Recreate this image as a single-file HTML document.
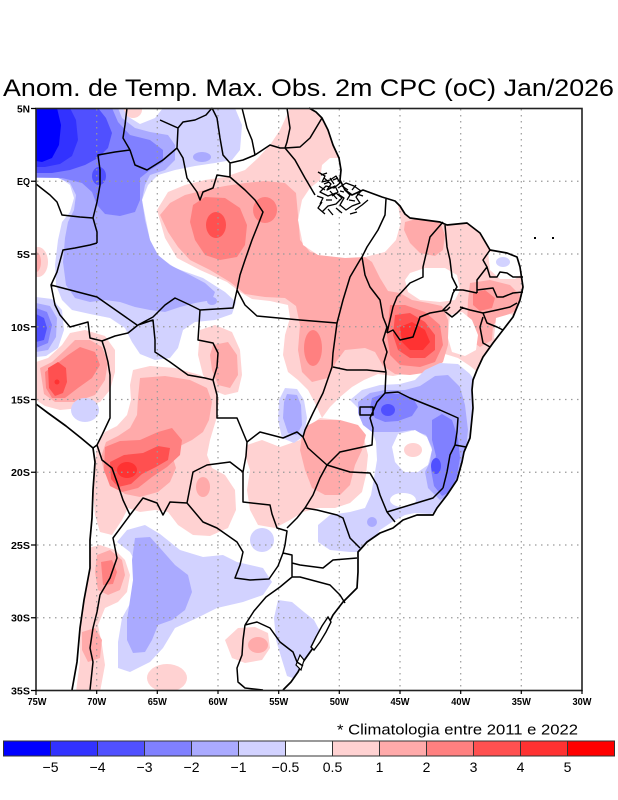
<!DOCTYPE html>
<html>
<head>
<meta charset="utf-8">
<style>
html,body{margin:0;padding:0;background:#fff;}
svg{display:block;}
text{font-family:"Liberation Sans",sans-serif;fill:#000;}
</style>
</head>
<body>
<svg width="618" height="800" viewBox="0 0 618 800" xmlns="http://www.w3.org/2000/svg">
<defs>
<clipPath id="land">
<path d="M36,108 L309,108 L316,112 L322,118 L328,130 L333,145 L339,158 L341,170 L340,180 L345,190 L352,195 L363,190 L382,197 L395,201 L400,206 L405,214 L410,218 L425,220 L440,222 L447,225 L467,223 L480,233 L490,250 L507,253 L517,257 L520,267 L523,287 L520,300 L513,317 L503,330 L493,343 L483,357 L477,370 L473,380 L472,390 L473,408 L470,438 L464,452 L462,462 L457,480 L447,495 L437,508 L433,515 L417,515 L403,520 L393,528 L380,533 L367,542 L358,552 L358,572 L357,588 L343,602 L333,615 L323,635 L313,648 L303,662 L298,672 L291,682 L283,691 L72,691 L77,662 L80,628 L84,600 L90,568 L90,540 L92,518 L93,490 L95,462 L93,448 L81,438 L66,426 L48,413 L36,404 Z"/>
</clipPath>
</defs>

<rect x="0" y="0" width="618" height="800" fill="#fff"/>

<text x="3" y="96" font-size="24.5" textLength="611" lengthAdjust="spacingAndGlyphs">Anom. de Temp. Max. Obs. 2m CPC (oC) Jan/2026</text>

<g clip-path="url(#land)" stroke="none">
 <g fill="#FFD2D2">
  <polygon points="157,210 168,192 185,185 205,180 225,177 245,170 258,158 270,145 280,130 287,115 290,108 360,108 365,150 375,185 420,205 480,215 540,240 540,375 485,378 470,366 458,358 445,354 430,353 420,362 408,373 393,376 378,374 364,380 352,387 340,397 330,407 322,418 315,403 308,390 298,380 288,372 283,355 285,335 290,318 288,305 270,301 252,299 240,292 227,282 200,270 177,258 165,238"/>
  <polygon points="133,370 150,366 175,368 200,375 215,385 219,400 216,420 210,440 207,455 212,468 225,475 235,490 236,510 228,528 210,536 193,535 178,525 168,512 155,510 140,512 128,508 122,520 112,535 100,532 95,515 93,490 95,465 97,445 105,432 117,426 127,415 131,400 130,385"/>
  <polygon points="247,445 262,440 280,447 300,440 310,425 320,418 340,420 355,426 364,438 368,455 366,475 362,492 350,503 335,508 318,508 303,512 290,520 275,528 258,525 250,510 247,490 250,470 245,455"/>
  <polygon points="88,548 100,545 115,550 125,560 130,575 127,592 118,602 105,608 98,625 102,645 105,665 100,692 76,692 80,660 80,630 84,600 88,570"/>
  <polygon points="36,362 48,358 62,345 70,333 85,330 105,336 115,350 115,372 110,390 100,402 80,408 60,410 45,406 36,400"/>
  <ellipse cx="133" cy="110" rx="9" ry="8"/>
  <ellipse cx="38" cy="262" rx="10" ry="15"/>
  <polygon points="200,330 215,325 232,332 240,350 242,375 238,392 225,395 212,390 203,375 198,355"/>
  <polygon points="225,640 238,628 255,627 268,633 270,648 262,660 245,663 232,658"/>
  <ellipse cx="167" cy="678" rx="20" ry="14"/>
 </g>
 <g fill="#FFAAAA">
  <polygon points="160,215 170,203 185,195 205,190 225,186 245,183 265,181 285,183 296,193 298,215 300,240 310,252 330,256 350,255 362,255 372,262 380,278 388,291 400,293 412,300 428,303 442,306 448,320 448,345 443,362 430,372 410,375 395,374 383,366 375,352 365,348 345,350 336,362 328,378 312,382 302,372 298,350 300,325 296,306 285,298 265,297 245,294 230,282 210,270 190,260 178,247 168,232"/>
  <polygon points="405,222 420,218 440,222 445,235 443,250 435,256 420,253 410,243 404,230"/>
  <polygon points="470,283 490,280 510,285 520,295 518,310 500,318 493,325 492,340 480,347 470,340 467,325 468,300"/>
  <polygon points="140,378 165,376 190,380 207,388 212,402 209,420 203,432 192,440 180,446 172,455 176,468 170,482 158,492 140,497 125,494 112,485 104,472 101,457 106,442 118,436 130,428 137,415 138,398"/>
  <polygon points="40,368 52,362 65,350 75,340 90,340 102,347 108,362 105,380 95,395 75,402 55,402 44,394"/>
  <polygon points="303,428 318,420 340,420 358,425 366,435 362,450 355,465 350,485 340,495 325,495 312,488 305,470 300,450"/>
  <polygon points="97,555 110,550 122,560 125,575 120,590 108,595 98,590 95,572"/>
  <polygon points="82,632 95,628 102,640 100,658 88,662 82,650"/>
  <polygon points="213,345 228,342 237,355 238,375 230,388 218,385 212,370 210,355"/>
  <ellipse cx="258" cy="645" rx="10" ry="8"/>
  <ellipse cx="203" cy="487" rx="7" ry="10"/>
  <ellipse cx="36" cy="262" rx="5" ry="10"/>
 </g>
 <g fill="#FFFFFF">
  <polygon points="298,220 302,200 310,188 320,180 322,165 330,158 345,158 358,178 385,190 398,205 401,222 396,240 385,252 365,257 345,258 318,255 303,245"/>
  <polygon points="410,273 425,268 445,268 457,275 460,290 455,300 440,302 420,300 408,292 405,280"/>
  <polygon points="450,315 462,312 472,320 478,335 476,350 465,356 452,352 448,338 449,325"/>
  <polygon points="496,318 510,314 520,318 518,335 505,345 494,338"/>
  <polygon points="488,252 505,250 520,255 525,272 515,279 500,279 490,270"/>
 </g>
 <g fill="#FF8080">
  <polygon points="193,205 205,197 225,198 240,208 247,225 245,245 237,257 220,260 205,255 195,240 190,222"/>
  <ellipse cx="265" cy="210" rx="12" ry="13"/>
  <ellipse cx="313" cy="348" rx="9" ry="18"/>
  <polygon points="390,305 405,305 425,312 440,325 443,345 435,362 420,367 400,365 390,355 387,335"/>
  <polygon points="473,293 485,290 495,298 492,308 480,311 473,305"/>
  <polygon points="45,372 55,365 68,355 80,347 95,352 100,365 92,378 78,388 65,398 52,398 46,388"/>
  <polygon points="105,447 120,441 140,440 158,432 172,428 182,440 180,455 167,467 152,477 138,488 122,492 110,486 104,470"/>
  <polygon points="101,562 112,560 117,572 113,584 103,585"/>
 </g>
 <g fill="#FF5050">
  <ellipse cx="216" cy="225" rx="10" ry="13"/>
  <polygon points="395,315 410,313 425,322 435,335 435,350 425,358 410,358 398,350 393,335"/>
  <polygon points="48,368 58,362 66,368 67,382 63,393 55,396 49,388"/>
  <polygon points="110,462 124,455 143,453 158,446 170,448 168,460 156,467 142,474 131,484 118,487 111,479"/>
 </g>
 <g fill="#FF3232">
  <polygon points="400,327 412,322 425,330 430,342 423,350 410,350 402,342"/>
  <ellipse cx="127" cy="470" rx="10" ry="8"/>
  <circle cx="57" cy="382" r="2.5"/>
 </g>

 <g fill="#D2D2FF">
  <polygon points="36,108 123,108 127,116 140,124 155,118 163,108 235,108 242,125 240,150 232,160 215,163 195,166 175,170 158,175 148,185 142,200 145,215 150,240 157,255 175,268 203,278 225,292 236,302 232,314 215,320 195,322 183,330 178,348 170,358 155,360 140,354 132,342 125,328 110,318 90,314 72,310 62,300 56,285 55,265 58,240 62,222 70,212 74,198 70,185 60,178 36,176"/>
  <polygon points="36,297 52,299 62,310 64,330 58,348 46,356 36,357"/>
  <polygon points="285,388 297,389 304,400 307,418 304,436 294,443 282,438 278,420 279,400"/>
  <polygon points="350,400 362,390 380,385 400,384 415,380 425,370 440,363 458,364 470,374 480,388 485,420 480,470 470,495 450,508 430,514 415,513 405,515 392,522 380,530 372,542 368,552 350,552 330,550 318,542 318,525 330,515 350,512 365,508 371,495 374,478 377,460 376,442 370,425 360,410"/>
  <polygon points="117,542 127,530 145,525 160,534 180,550 203,557 223,555 237,562 263,568 272,582 263,595 243,602 217,608 197,618 175,628 163,648 150,662 130,672 118,668 118,642 122,618 132,600 137,585 137,565 130,552"/>
  <polygon points="278,600 292,602 304,612 314,620 322,635 320,652 312,668 298,680 287,676 282,660 276,640 274,618"/>
  <ellipse cx="85" cy="410" rx="14" ry="12"/>
  <ellipse cx="262" cy="540" rx="12" ry="12"/>
  <ellipse cx="503" cy="262" rx="7" ry="5"/>
 </g>
 <g fill="#AAAAFF">
  <polygon points="36,108 118,108 122,118 135,128 150,132 168,135 175,145 175,160 165,170 150,175 145,185 142,200 145,220 150,240 158,255 170,265 190,275 205,283 215,292 212,300 195,303 180,307 165,312 150,310 135,307 120,302 105,300 90,302 75,298 66,285 63,262 65,238 68,222 74,210 76,195 70,183 58,178 36,178"/>
  <polygon points="36,303 50,306 57,318 56,337 48,350 36,352"/>
  <polygon points="287,394 297,395 301,405 302,425 297,435 288,433 283,418 284,402"/>
  <polygon points="358,402 370,393 385,390 405,390 420,386 435,376 448,375 460,387 465,405 468,430 465,460 460,480 450,495 440,500 428,488 425,472 430,462 432,448 426,435 412,430 398,432 385,432 372,432 363,425 358,413"/>
  <polygon points="135,538 150,537 160,548 175,565 188,575 192,592 185,610 172,620 158,625 152,640 145,652 133,653 127,640 127,620 130,600 133,580 132,560"/>
  <ellipse cx="202" cy="157" rx="9" ry="5"/>
  <ellipse cx="212" cy="301" rx="5" ry="4"/>
  <ellipse cx="372" cy="522" rx="5" ry="5"/>
 </g>
 <g fill="#8080FF">
  <polygon points="36,108 112,108 118,122 130,135 150,140 163,150 163,162 150,170 140,178 140,200 135,212 120,216 105,214 97,205 92,192 82,183 62,178 36,177"/>
  <polygon points="36,308 47,312 52,325 48,343 36,348"/>
  <polygon points="372,398 385,393 400,394 413,398 418,407 412,416 398,421 385,422 375,418 370,408"/>
  <polygon points="432,420 442,414 452,420 458,438 460,458 457,476 450,492 442,496 434,486 431,470 436,456 432,440"/>
 </g>
 <g fill="#5050FF">
  <polygon points="36,108 98,108 106,118 112,133 108,148 98,158 85,165 70,170 52,173 36,173"/>
  <ellipse cx="99" cy="176" rx="7" ry="9"/>
  <polygon points="36,314 44,318 47,328 44,340 36,342"/>
  <ellipse cx="436" cy="466" rx="5" ry="8"/>
  <ellipse cx="388" cy="410" rx="7" ry="6"/>
 </g>
 <ellipse cx="67" cy="127" rx="6" ry="9" fill="#8080FF"/>
 <polygon fill="#3232FF" points="36,108 70,108 76,120 78,140 72,156 60,164 45,167 36,167"/>
 <polygon fill="#0000FF" points="36,108 57,108 61,125 59,145 52,158 42,162 36,161"/>
 <polygon fill="#FFFFFF" points="398,434 415,430 427,437 432,450 428,465 418,472 404,472 395,462 392,447"/>
 <ellipse cx="413" cy="450" rx="9" ry="7" fill="#FFD2D2"/>
 <ellipse cx="403" cy="500" rx="13" ry="7" fill="#FFFFFF"/>
</g>

<g stroke="#9a9a9a" stroke-width="1.2" stroke-dasharray="1.5 4.5" fill="none">
 <path d="M96.7,109 V690 M157.3,109 V690 M218,109 V690 M278.7,109 V690 M339.3,109 V690 M400,109 V690 M460.7,109 V690 M521.3,109 V690"/>
 <path d="M37,181.25 H581 M37,254 H581 M37,326.75 H581 M37,399.5 H581 M37,472.25 H581 M37,545 H581 M37,617.75 H581"/>
</g>

<path fill="none" stroke="#000" stroke-width="1.7" stroke-linejoin="round" d="M309,108 L316,112 L322,118 L328,130 L333,145 L339,158 L341,170 L340,180 L345,190 L352,195 L363,190 L382,197 L395,201 L400,206 L405,214 L410,218 L425,220 L440,222 L447,225 L467,223 L480,233 L490,250 L507,253 L517,257 L520,267 L523,287 L520,300 L513,317 L503,330 L493,343 L483,357 L477,370 L473,380 L472,390 L473,408 L470,438 L464,452 L462,462 L457,480 L447,495 L437,508 L433,515 L417,515 L403,520 L393,528 L380,533 L367,542 L358,552 L358,572 L357,588 L343,602 L333,615 L323,635 L313,648 L303,662 L298,672 L291,682 L283,690 M72,690 L77,662 L80,628 L84,600 L90,568 L90,540 L92,518 L93,490 L95,462 L93,448 L81,438 L66,426 L48,413 L36,404"/>

<!-- Amazon delta scribbles -->
<g fill="none" stroke="#000" stroke-width="1.3" stroke-linejoin="round">
 <path d="M318,172 L325,176 L322,182 L330,180 L336,176 L340,183 L334,188 L326,186 L320,192 L328,196 L336,193 L342,198 L336,204 L328,206 L322,212"/>
 <path d="M338,188 L346,183 L354,186 L361,191 L356,197 L360,203 L352,206 L346,210 L340,205 L344,198 L338,194"/>
 <path d="M345,190 L350,195 L347,200 M326,200 L332,200 M355,210 L362,205 L368,200 M330,178 L334,184 M322,202 L318,208 L325,214"/>
 <path d="M324,178 L331,184 L327,190 L335,186 L338,192 L332,196 M319,186 L325,190 M317,196 L323,198 L320,204 M330,191 L337,199 M342,186 L348,190 M352,190 L356,185 M349,200 L355,201 M336,208 L342,213 M328,209 L333,215 M350,214 L357,212"/>
 <path d="M321,175 L327,173 M333,180 L338,178 M340,191 L344,192 M357,194 L363,196 M324,184 L329,182"/>
</g>
<rect x="534" y="237" width="2" height="2" fill="#000"/>
<rect x="552" y="237" width="2" height="2" fill="#000"/>
<polygon points="328,617 331,622 326,632 320,642 314,650 311,647 316,637 322,626" fill="#fff" stroke="#000" stroke-width="1.4"/>
<polygon points="300,655 304,660 301,670 296,665" fill="#fff" stroke="#000" stroke-width="1.2"/>

<path fill="none" stroke="#000" stroke-width="1.5" stroke-linejoin="round" d="
M127,108 L125,125 L123,138 L130,150
M130,150 L115,152 L98,155 L100,170 L100,185 L97,202 L93,218 L97,232 L97,243
M130,150 L135,165 L147,170 L163,160 L177,148 L178,128 L183,122 L195,120 L206,115 L212,108
M160,120 L178,128
M212,108 L217,118 L220,138 L223,155 L230,163 L243,160 L255,155
M242,108 L247,128 L252,140 L255,155
M255,155 L270,145 L280,148 L285,148
M287,108 L290,128 L287,142 L285,148
M285,148 L300,147 L310,138 L316,128 L322,118
M36,184 L50,195 L57,202 L62,215 L80,217 L93,218
M97,243 L90,245 L75,248 L63,250 L57,272 L51,285 L55,305 L60,315 L70,327 L88,322 L90,338 L102,341
M102,341 L115,336 L128,333 L138,325
M138,325 L153,320 L155,340 L155,352 L170,362 L188,375 L205,378 L213,380 L217,395 L217,418 L237,418 L247,442 L246,456 L243,472
M102,341 L105,350 L108,362 L110,375 L110,395 L110,418 L102,435 L97,445 L93,448
M97,445 L102,460 L112,468 L117,482 L123,500 L130,515
M130,515 L113,538 L117,558 L110,578 L100,595 L97,612 L93,628 L90,648 L93,662 L90,690
M130,515 L143,498 L157,503 L163,515 L170,502 L187,503
M187,503 L193,472 L207,465 L230,462 L243,472
M243,472 L243,502 L270,505 L272,514 L277,528 L287,531 L285,545 L283,553
M187,503 L203,522 L217,528 L237,542 L243,552 L240,565 L235,578 L250,580 L269,579 L278,566 L283,553
M283,553 L292,555 L292,577 L280,587 L266,597 L254,611 L245,625
M245,625 L243,640 L242,655 L237,668 L238,682 L245,688 L263,690
M245,625 L257,622 L270,628 L280,642 L293,652 L297,662 L303,666
M177,148 L183,158 L187,178 L197,192 L200,200 L203,192 L213,188 L217,175 L230,177 L230,163
M230,177 L245,190 L255,200 L263,212 L258,225 L252,240 L245,260 L240,275 L237,290
M51,285 L97,297 L137,325
M138,325 L153,317 L165,305 L175,298 L190,305 L200,310
M200,310 L233,308 L237,290
M200,310 L198,340 L213,343 L218,353 L217,367 L213,380
M237,290 L245,305 L257,316 L300,320 L337,323
M337,323 L343,300 L350,277 L360,260 L362,257
M362,257 L367,247 L378,230 L385,215 L386,199
M362,257 L365,275 L370,287 L380,300 L383,317 L387,327 L383,340 L387,352 L384,362 L386,372
M337,323 L333,353 L332,367 L323,393 L313,413 L305,430 L303,437
M333,367 L347,370 L367,370 L386,372
M386,372 L385,393
M385,393 L377,402 L370,418 L373,428 L372,445 L340,452 L327,465
M360,407 L373,407 L373,415 L360,415 Z
M247,442 L260,432 L283,438 L297,432 L303,437
M303,437 L308,448 L318,457 L327,465
M327,465 L350,472 L370,473 L377,485 L380,495 L387,512
M327,465 L320,478 L313,495 L305,508 L297,518 L287,528
M387,512 L410,505 L433,498 L443,488
M443,488 L447,472 L450,455 L455,445
M455,445 L466,447
M387,512 L395,522
M385,393 L398,392 L410,398 L440,410 L458,418 L457,432 L455,445
M305,508 L317,510 L337,515 L343,518 L350,538 L360,548
M292,563 L300,565 L323,568 L333,560 L357,558
M292,577 L300,577 L330,585 L340,595 L345,603
M443,222 L430,237 L427,250 L423,267 L423,277 L410,283 L397,297 L393,307 L390,320 L387,333
M445,225 L447,247 L450,260 L452,277 L457,287 L453,293 L450,303 L443,310 L452,317 L457,313 L463,307
M387,333 L393,330 L400,340 L413,337 L420,317 L430,313 L447,310 L450,307
M453,290 L463,290 L477,293
M477,293 L477,280 L487,267 L483,260 L490,250
M487,267 L490,277 L497,277 L500,272 L507,273 L513,277 L523,277
M477,290 L493,288 L497,297 L503,297 L513,293 L523,292
M460,307 L470,310 L483,313 L497,310 L510,307 L517,303
M483,313 L487,323 L497,327 L503,330
M483,317 L480,327 L483,343 L490,347
M285,148 L295,160 L305,178 L315,195
"/>

<rect x="36" y="108.5" width="546" height="582" fill="none" stroke="#222" stroke-width="1.6"/>

<g stroke="#000" stroke-width="1.2">
 <path d="M31,108.5 H36 M31,181.25 H36 M31,254 H36 M31,326.75 H36 M31,399.5 H36 M31,472.25 H36 M31,545 H36 M31,617.75 H36 M31,690.5 H36"/>
 <path d="M36,690 V695 M96.7,690 V694 M157.3,690 V694 M218,690 V694 M278.7,690 V694 M339.3,690 V694 M400,690 V694 M460.7,690 V694 M521.3,690 V694 M582,690 V694"/>
</g>
<g font-size="10.5" font-weight="bold" text-anchor="end">
 <text x="30" y="112.5" textLength="13" lengthAdjust="spacingAndGlyphs">5N</text>
 <text x="30" y="185" textLength="13" lengthAdjust="spacingAndGlyphs">EQ</text>
 <text x="30" y="258" textLength="13" lengthAdjust="spacingAndGlyphs">5S</text>
 <text x="30" y="331" textLength="19" lengthAdjust="spacingAndGlyphs">10S</text>
 <text x="30" y="403.5" textLength="19" lengthAdjust="spacingAndGlyphs">15S</text>
 <text x="30" y="476" textLength="19" lengthAdjust="spacingAndGlyphs">20S</text>
 <text x="30" y="549" textLength="19" lengthAdjust="spacingAndGlyphs">25S</text>
 <text x="30" y="621.5" textLength="19" lengthAdjust="spacingAndGlyphs">30S</text>
 <text x="30" y="694.5" textLength="19" lengthAdjust="spacingAndGlyphs">35S</text>
</g>
<g font-size="10.5" font-weight="bold" text-anchor="middle">
 <text x="37" y="705" textLength="19" lengthAdjust="spacingAndGlyphs">75W</text>
 <text x="96.7" y="705" textLength="19" lengthAdjust="spacingAndGlyphs">70W</text>
 <text x="157.3" y="705" textLength="19" lengthAdjust="spacingAndGlyphs">65W</text>
 <text x="218" y="705" textLength="19" lengthAdjust="spacingAndGlyphs">60W</text>
 <text x="278.7" y="705" textLength="19" lengthAdjust="spacingAndGlyphs">55W</text>
 <text x="339.3" y="705" textLength="19" lengthAdjust="spacingAndGlyphs">50W</text>
 <text x="400" y="705" textLength="19" lengthAdjust="spacingAndGlyphs">45W</text>
 <text x="460.7" y="705" textLength="19" lengthAdjust="spacingAndGlyphs">40W</text>
 <text x="521.3" y="705" textLength="19" lengthAdjust="spacingAndGlyphs">35W</text>
 <text x="582" y="705" textLength="19" lengthAdjust="spacingAndGlyphs">30W</text>
</g>

<text x="337" y="734.5" font-size="15" textLength="241" lengthAdjust="spacingAndGlyphs">* Climatologia entre 2011 e 2022</text>

<g stroke="#333" stroke-width="1">
 <rect x="3.5" y="741" width="47" height="15" fill="#0000FF"/>
 <rect x="50.5" y="741" width="47" height="15" fill="#3232FF"/>
 <rect x="97.5" y="741" width="47" height="15" fill="#5050FF"/>
 <rect x="144.5" y="741" width="47" height="15" fill="#8080FF"/>
 <rect x="191.5" y="741" width="47" height="15" fill="#AAAAFF"/>
 <rect x="238.5" y="741" width="47" height="15" fill="#D2D2FF"/>
 <rect x="285.5" y="741" width="47" height="15" fill="#FFFFFF"/>
 <rect x="332.5" y="741" width="47" height="15" fill="#FFD2D2"/>
 <rect x="379.5" y="741" width="47" height="15" fill="#FFAAAA"/>
 <rect x="426.5" y="741" width="47" height="15" fill="#FF8080"/>
 <rect x="473.5" y="741" width="47" height="15" fill="#FF5050"/>
 <rect x="520.5" y="741" width="47" height="15" fill="#FF3232"/>
 <rect x="567.5" y="741" width="47" height="15" fill="#FF0000"/>
</g>
<g font-size="14" text-anchor="middle">
 <text x="50.5" y="772">−5</text>
 <text x="97.5" y="772">−4</text>
 <text x="144.5" y="772">−3</text>
 <text x="191.5" y="772">−2</text>
 <text x="238.5" y="772">−1</text>
 <text x="285.5" y="772">−0.5</text>
 <text x="332.5" y="772">0.5</text>
 <text x="379.5" y="772">1</text>
 <text x="426.5" y="772">2</text>
 <text x="473.5" y="772">3</text>
 <text x="520.5" y="772">4</text>
 <text x="567.5" y="772">5</text>
</g>
</svg>
</body>
</html>
